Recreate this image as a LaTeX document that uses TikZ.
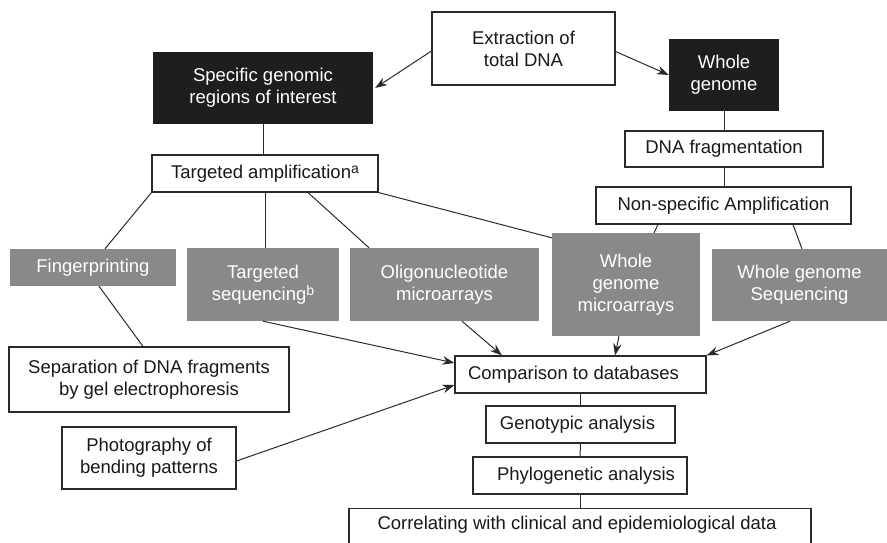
\documentclass[tikz,border=0pt]{standalone}
\usepackage{fontspec}
\setmainfont{Liberation Sans}
\usetikzlibrary{arrows.meta}
\definecolor{darkbox}{HTML}{1E1E1E}
\definecolor{graybox}{HTML}{898989}
\definecolor{linecol}{HTML}{2A2A2A}
\newcommand{\supmark}[1]{\raisebox{4.5pt}{\fontsize{14pt}{14pt}\selectfont #1}}
\begin{document}
\begin{tikzpicture}[x=1pt,y=-1pt,
  base/.style={inner sep=0pt, align=center, font=\fontsize{18.5pt}{22pt}\selectfont},
  wbox/.style={base, draw=linecol, line width=1.1pt, fill=white, text=black!90},
  bbox/.style={base, fill=darkbox, text=white},
  gbox/.style={base, fill=graybox, text=white},
  conn/.style={draw=linecol, line width=1pt},
  arr/.style={conn, -{Stealth[length=12pt,width=8.5pt]}}]
\useasboundingbox (0,0) rectangle (887,543);
\clip (0,0) rectangle (887,543);
% nodes
\node[wbox, minimum width=183pt, minimum height=73pt] (extr) at (523.5,48.5) {Extraction of\\total DNA};
\node[bbox, minimum width=220pt, minimum height=72pt] (spec) at (263,88) {Specific genomic\\regions of interest};
\node[bbox, minimum width=110pt, minimum height=72pt] (wg) at (724,75) {Whole\\genome};
\node[wbox, minimum width=226pt, minimum height=37pt] (tamp) at (265,173.5) {Targeted amplification\supmark{a}};
\node[wbox, minimum width=198pt, minimum height=36pt] (dnaf) at (724,149) {DNA fragmentation};
\node[wbox, minimum width=255pt, minimum height=37pt] (nsa) at (723.5,205.5) {Non-specific Amplification};
\node[gbox, minimum width=166pt, minimum height=37pt] (fing) at (93,267.5) {Fingerprinting};
\node[gbox, minimum width=152pt, minimum height=73pt] (tseq) at (263,284.5) {Targeted\\sequencing\supmark{b}};
\node[gbox, minimum width=189pt, minimum height=73pt] (oligo) at (444.5,284.5) {Oligonucleotide\\microarrays};
\node[gbox, minimum width=148pt, minimum height=103pt] (wgm) at (626,284.5) {Whole\\genome\\microarrays};
\node[gbox, minimum width=175pt, minimum height=72pt] (wgs) at (799.5,285) {Whole genome\\Sequencing};
\node[wbox, minimum width=280pt, minimum height=65pt] (sep) at (149,379.5) {Separation of DNA fragments\\by gel electrophoresis};
\node[wbox, minimum width=174pt, minimum height=62pt] (photo) at (149,458) {Photography of\\bending patterns};
\node[wbox, minimum width=251pt, minimum height=37pt] (comp) at (580.5,374.5) {Comparison to databases\hspace*{14pt}};
\node[wbox, minimum width=189pt, minimum height=37pt] (geno) at (580.5,424.5) {Genotypic analysis\hspace*{6pt}};
\node[wbox, minimum width=214pt, minimum height=37pt] (phylo) at (580,475.5) {\hspace*{12pt}Phylogenetic analysis};
\node[wbox, minimum width=462pt, minimum height=60pt, anchor=north] (corr) at (580,508) {};
\node[base, text=black!90] at (577,525) {Correlating with clinical and epidemiological data};
% connectors
\draw[arr] ([yshift=-2.5pt]extr.west) -- ([xshift=2pt]spec.east);
\draw[arr] ([yshift=-3pt]extr.east) -- (wg.west);
\draw[conn] (spec.south) -- (spec.south |- tamp.north);
\draw[conn] (wg.south) -- (wg.south |- dnaf.north);
\draw[conn] (dnaf.south) -- (dnaf.south |- nsa.north);
\draw[conn] (tamp.south west) -- ([xshift=12pt]fing.north);
\draw[conn] (tamp.south) -- (tamp.south |- tseq.north);
\draw[conn] ([xshift=43pt]tamp.south) -- ([xshift=-75.5pt]oligo.north);
\draw[conn] (tamp.south east) -- ([yshift=-5pt]wgm.north west);
\draw[conn] ([xshift=-65.5pt]nsa.south) -- ([xshift=28pt]wgm.north);
\draw[conn] ([xshift=69.5pt]nsa.south) -- ([xshift=2.5pt]wgs.north);
\draw[conn] ([xshift=6pt]fing.south) -- ([xshift=-6pt]sep.north);
\draw[arr] (tseq.south) -- ([yshift=11.5pt]comp.west);
\draw[arr] ([yshift=-3pt]photo.east) -- ([yshift=-10.5pt]comp.west);
\draw[arr] ([xshift=17.5pt]oligo.south) -- ([xshift=-78.5pt]comp.north);
\draw[arr] ([xshift=-7pt]wgm.south) -- ([xshift=34.5pt]comp.north);
\draw[arr] ([xshift=-9.5pt]wgs.south) -- (comp.north east);
\draw[conn] (comp.south) -- (geno.north);
\draw[conn] (geno.south) -- (phylo.north);
\draw[conn] (phylo.south) -- (phylo.south |- corr.north);
\end{tikzpicture}
\end{document}
